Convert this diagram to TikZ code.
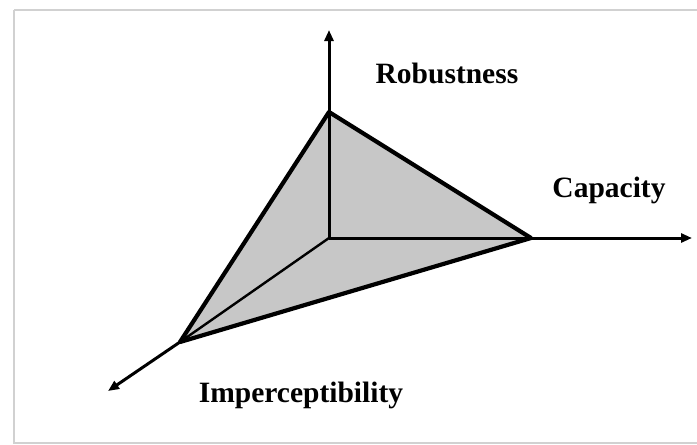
\documentclass[tikz,border=0pt]{standalone}
\usepackage{fontspec}
\setmainfont{Liberation Serif}
\usetikzlibrary{arrows.meta}
\begin{document}
\begin{tikzpicture}[x=1pt,y=-1pt,
  axis/.style={line width=3pt,-{Triangle[length=11pt,width=9pt]}},
  edge/.style={line width=4.2pt,line join=round},
  inner/.style={line width=2.4pt},
  lbl/.style={font=\fontsize{29.5}{31}\selectfont\bfseries,inner sep=0pt,anchor=base}]
\useasboundingbox (0,0) rectangle (697,445);
\draw[line width=2pt,draw=black!18] (14,10) -- (700,10);
\draw[line width=2pt,draw=black!18] (14,10) -- (14,443) -- (700,443);
% vertices
\coordinate (O) at (329,238);
\coordinate (R) at (329,112);
\coordinate (C) at (531,238);
\coordinate (I) at (180,342);
\coordinate (Rt) at (329,30);
\coordinate (Ct) at (692,238);
\coordinate (It) at (108,391);
\fill[black!22] (R) -- (C) -- (I) -- cycle;
\draw[inner] (O) -- (I);
\draw[axis] (O) -- (Rt);
\draw[axis] (O) -- (Ct);
\draw[axis] (I) -- (It);
\draw[edge] (R) -- (C) -- (I) -- cycle;
\node[lbl] (rob) at (447,83) {Robustness};
\node[lbl] (cap) at (609,197) {Capacity};
\node[lbl] (imp) at (301,402) {Imperceptibility};
\end{tikzpicture}
\end{document}
